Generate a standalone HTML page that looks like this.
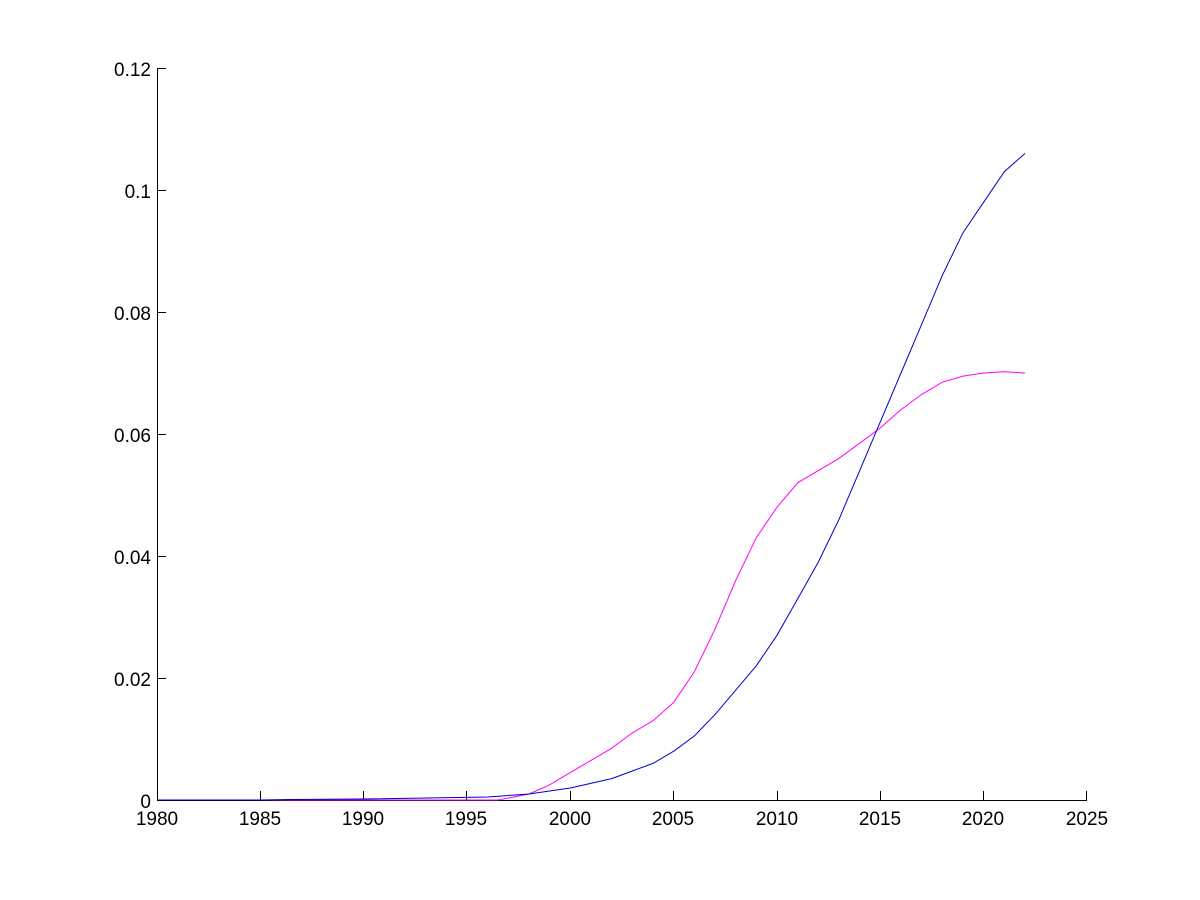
<!DOCTYPE html>
<html><head><style>body{margin:0;background:#fff}svg{display:block}text{font-family:"Liberation Sans",Arial,sans-serif;font-size:19px;fill:#000}</style></head>
<body>
<svg width="1200" height="900" xmlns="http://www.w3.org/2000/svg">
<rect width="1200" height="900" fill="#fff"/>
<g stroke="#000" stroke-width="1" shape-rendering="crispEdges">
<line x1="157.5" y1="68" x2="157.5" y2="800.5"/>
<line x1="157" y1="800.5" x2="1087" y2="800.5"/>
<line x1="157" y1="68.5" x2="166" y2="68.5"/>
<line x1="157" y1="190.5" x2="166" y2="190.5"/>
<line x1="157" y1="312.5" x2="166" y2="312.5"/>
<line x1="157" y1="434.5" x2="166" y2="434.5"/>
<line x1="157" y1="556.5" x2="166" y2="556.5"/>
<line x1="157" y1="678.5" x2="166" y2="678.5"/>
<line x1="260.5" y1="791" x2="260.5" y2="800"/>
<line x1="363.5" y1="791" x2="363.5" y2="800"/>
<line x1="466.5" y1="791" x2="466.5" y2="800"/>
<line x1="570.5" y1="791" x2="570.5" y2="800"/>
<line x1="673.5" y1="791" x2="673.5" y2="800"/>
<line x1="777.5" y1="791" x2="777.5" y2="800"/>
<line x1="880.5" y1="791" x2="880.5" y2="800"/>
<line x1="983.5" y1="791" x2="983.5" y2="800"/>
<line x1="1086.5" y1="791" x2="1086.5" y2="800"/>
</g>
<g text-anchor="end">
<text x="151" y="76">0.12</text><text x="151" y="198">0.1</text><text x="151" y="320">0.08</text>
<text x="151" y="442">0.06</text><text x="151" y="564">0.04</text><text x="151" y="686">0.02</text><text x="151" y="808">0</text>
</g>
<g text-anchor="middle">
<text x="157" y="825">1980</text><text x="260" y="825">1985</text><text x="363" y="825">1990</text><text x="466" y="825">1995</text><text x="570" y="825">2000</text><text x="673" y="825">2005</text><text x="777" y="825">2010</text><text x="880" y="825">2015</text><text x="983" y="825">2020</text><text x="1087" y="825">2025</text>
</g>
<polyline fill="none" stroke="#ff00ff" stroke-width="1" points="157,800 498,800 529,794 549.7,784.8 570.3,772.6 591,760.4 611.7,748.2 632.3,732.9 653,720.7 673.7,702.4 694.3,671.9 715,629.2 735.7,580.4 756.3,537.7 777,507.2 797.7,482.8 818.3,470.6 839,458.4 859.7,443.2 880.3,427.9 901,409.6 921.7,394.4 942.3,382.2 963,376.1 983.7,373 1004.3,371.8 1025,373"/>
<polyline fill="none" stroke="#0000cc" stroke-width="1" points="157,800 260,800 290,799.5 363.7,799 487.7,797 529,794 570.3,788 611.7,778.6 653,763.4 673.7,751.2 694.3,736 715,714.6 735.7,690.2 756.3,665.8 777,635.3 797.7,598.7 818.3,562.1 839,519.4 859.7,470.6 880.3,421.8 901,373 921.7,324.2 942.3,275.4 963,232.7 983.7,202.2 1004.3,171.7 1025,153.4"/>
</svg>
</body></html>
